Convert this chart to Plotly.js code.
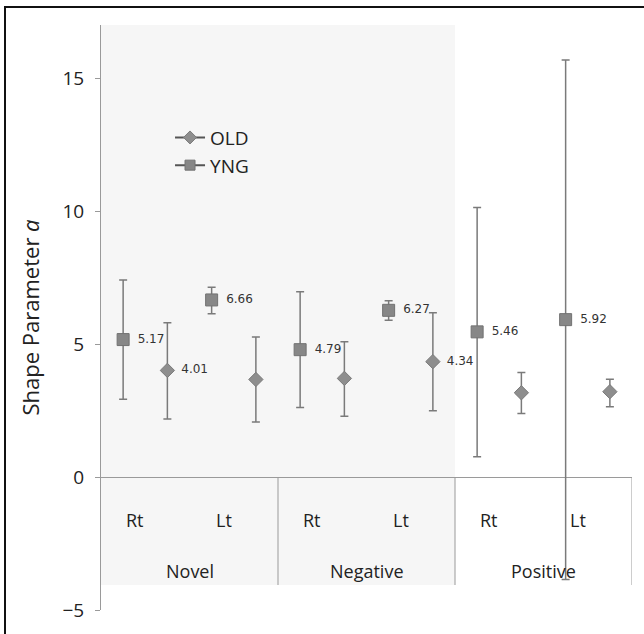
<!DOCTYPE html>
<html>
<head>
<meta charset="utf-8">
<script src="https://cdn.plot.ly/plotly-3.0.1.min.js"></script>
<style>
  body { margin: 0; padding: 0; background: #fff; }
  #wrap { position: relative; width: 644px; height: 634px; }
  #chart { width: 644px; height: 634px; }
  #frame { position: absolute; left: 4px; top: 6px; width: 660px; height: 660px;
           border-top: 2px solid #111; border-left: 2px solid #111; pointer-events: none; }
</style>
</head>
<body>
<div id="wrap">
  <div id="chart"></div>
  <div id="frame"></div>
</div>
<script>
// ---- data ----
const groups = ['Novel', 'Negative', 'Positive'];
const sides = ['Rt', 'Lt'];
const yngValues = [5.17, 6.66, 4.79, 6.27, 5.46, 5.92];
const yngUpper  = [7.41, 7.14, 6.97, 6.63, 10.14, 15.68];
const yngLower  = [2.93, 6.14, 2.62, 5.90, 0.76, -3.85];
const oldValues = [4.01, 3.67, 3.71, 4.34, 3.17, 3.21];
const oldUpper  = [5.80, 5.27, 5.09, 6.18, 3.93, 3.68];
const oldLower  = [2.18, 2.07, 2.29, 2.49, 2.39, 2.64];
const yngLabels = ['5.17', '6.66', '4.79', '6.27', '5.46', '5.92'];
const oldLabels = ['4.01', '', '', '4.34', '', ''];
const yTicks = [-5, 0, 5, 10, 15];

// ---- build ----
const nCat = groups.length * sides.length;
const catIdx = Array.from({length: nCat}, (_, i) => i);
const xYng = catIdx.map(i => i + 0.25);
const xOld = catIdx.map(i => i + 0.75);
const pad = t => t ? '\u2002' + t : '';

const errColor = '#7a7a7a';
const labelFont = {family: 'DejaVu Sans', size: 12, color: '#333'};

const traces = [
  {
    x: xYng, y: yngValues, type: 'scatter', mode: 'markers+text',
    text: yngLabels.map(pad), textposition: 'middle right', textfont: labelFont,
    marker: {symbol: 'square', size: 12, color: '#878787', line: {color: '#727272', width: 1}},
    error_y: {type: 'data', symmetric: false,
      array: yngUpper.map((u, i) => u - yngValues[i]),
      arrayminus: yngLower.map((l, i) => yngValues[i] - l),
      color: errColor, thickness: 1.5, width: 4},
    showlegend: false, hoverinfo: 'skip', cliponaxis: false
  },
  {
    x: xOld, y: oldValues, type: 'scatter', mode: 'markers+text',
    text: oldLabels.map(pad), textposition: 'middle right', textfont: labelFont,
    marker: {symbol: 'diamond', size: 11, color: '#8e8e8e', line: {color: '#7a7a7a', width: 1}},
    error_y: {type: 'data', symmetric: false,
      array: oldUpper.map((u, i) => u - oldValues[i]),
      arrayminus: oldLower.map((l, i) => oldValues[i] - l),
      color: errColor, thickness: 1.5, width: 4},
    showlegend: false, hoverinfo: 'skip', cliponaxis: false
  },
  {
    x: [null], y: [null], type: 'scatter', mode: 'lines+markers', name: 'OLD',
    line: {color: '#555', width: 2},
    marker: {symbol: 'diamond', size: 10, color: '#8e8e8e', line: {color: '#7a7a7a', width: 1}}
  },
  {
    x: [null], y: [null], type: 'scatter', mode: 'lines+markers', name: 'YNG',
    line: {color: '#555', width: 2},
    marker: {symbol: 'square', size: 10, color: '#878787', line: {color: '#727272', width: 1}}
  }
];

const lineColor = '#9a9a9a';
const shapes = [
  {type: 'rect', xref: 'x', yref: 'y', x0: 0, x1: 4, y0: -4.06, y1: 17,
   fillcolor: '#f6f6f6', line: {width: 0}, layer: 'below'}
];
for (let g = 1; g <= groups.length; g++) {
  shapes.push({type: 'line', xref: 'x', yref: 'y', x0: g * sides.length, x1: g * sides.length,
    y0: 0, y1: -4.06, line: {color: lineColor, width: 1}});
}

const annotations = [];
groups.forEach((g, gi) => {
  sides.forEach((s, si) => {
    annotations.push({x: gi * sides.length + si + 0.5, y: -1.6, xref: 'x', yref: 'y',
      text: s, showarrow: false, xshift: -10,
      font: {family: 'Open Sans', size: 18, color: '#222'}});
  });
  annotations.push({x: gi * sides.length + sides.length / 2, y: -3.53, xref: 'x', yref: 'y',
    text: g, showarrow: false,
    font: {family: 'Open Sans', size: 18, color: '#222'}});
});

const layout = {
  width: 644, height: 634,
  margin: {l: 101, r: 12, t: 25, b: 24},
  paper_bgcolor: '#fff', plot_bgcolor: 'rgba(0,0,0,0)',
  font: {family: 'Open Sans', color: '#222'},
  xaxis: {range: [0, nCat], showgrid: false, zeroline: false, showline: false,
          showticklabels: false, ticks: '', fixedrange: true},
  yaxis: {range: [-5, 17], tickvals: yTicks, showgrid: false,
          zeroline: true, zerolinecolor: lineColor, zerolinewidth: 1,
          showline: true, linecolor: lineColor, linewidth: 1,
          ticks: 'outside', ticklen: 5, tickcolor: lineColor,
          ticklabelstandoff: 7,
          tickfont: {family: 'Open Sans', size: 19, color: '#222'},
          title: {text: 'Shape Parameter <i>a</i>', standoff: 16,
                  font: {family: 'Open Sans', size: 22, color: '#222'}}},
  legend: {x: 0.13, y: 0.84, xanchor: 'left', yanchor: 'top',
           bgcolor: 'rgba(0,0,0,0)', font: {family: 'Open Sans', size: 19, color: '#222'},
           tracegroupgap: 0, itemwidth: 30},
  shapes: shapes,
  annotations: annotations,
  showlegend: true
};

Plotly.newPlot('chart', traces, layout, {displayModeBar: false, staticPlot: true});
</script>
</body>
</html>
